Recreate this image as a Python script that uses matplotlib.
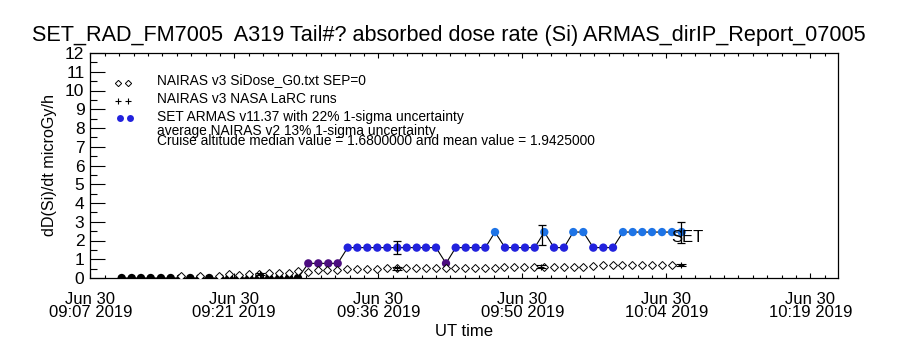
import numpy as np
import matplotlib
matplotlib.use('Agg')
import matplotlib.pyplot as plt
from matplotlib.ticker import FixedLocator, MultipleLocator

plt.rcParams['font.family'] = ['Liberation Sans', 'DejaVu Sans']

# tempo em minutos depois de 09:00 UT (30 jun 2019)
zero_times = [10.34, 11.34, 12.27, 13.24, 14.27, 15.24, 16.24, 17.2, 18.17, 19.1,
              20.17, 21.1, 22.1, 23.1, 24.07, 25.1, 26.1, 27.07, 27.97]
zero_vals = [0.0] * len(zero_times)

set_times = [29.0, 30.0, 31.0, 31.94, 32.94, 33.9, 34.9, 35.9, 36.9, 37.9,
             38.84, 39.84, 40.77, 41.77, 42.77, 43.74, 44.74, 45.74, 46.7, 47.67,
             48.67, 49.67, 50.67, 51.64, 52.6, 53.57, 54.57, 55.5, 56.5, 57.5,
             58.5, 59.47, 60.47, 61.44, 62.4, 63.37, 64.37, 65.37, 66.34]
set_vals = [0.78, 0.78, 0.78, 0.78,
            1.62, 1.62, 1.62, 1.62, 1.62, 1.62, 1.62, 1.62, 1.62, 1.62,
            0.78,
            1.62, 1.62, 1.62, 1.62,
            2.45,
            1.62, 1.62, 1.62, 1.62,
            2.45,
            1.62, 1.62,
            2.45, 2.45,
            1.62, 1.62, 1.62,
            2.45, 2.45, 2.45, 2.45, 2.45, 2.45, 2.45]

# NAIRAS v3 SiDose (losangos)
nairas_times = [16.24, 18.17, 20.07, 21.1, 22.1, 23.1, 24.1, 25.1, 26.1, 27.07,
                28.0, 28.94, 29.94, 30.9, 31.87, 32.84, 33.9, 34.9, 35.9, 36.9,
                37.84, 38.77, 39.77, 40.77, 41.77, 42.77, 43.7, 44.67, 45.67, 46.67,
                47.67, 48.6, 49.6, 50.6, 51.57, 52.6, 53.6, 54.57, 55.57, 56.5,
                57.5, 58.5, 59.44, 60.4, 61.4, 62.4, 63.4, 64.34, 65.34]
nairas_vals = [0.11, 0.13, 0.13, 0.20, 0.16, 0.20, 0.21, 0.25, 0.28, 0.28,
               0.37, 0.30, 0.43, 0.43, 0.43, 0.46, 0.46, 0.46, 0.46, 0.52,
               0.52, 0.52, 0.52, 0.52, 0.52, 0.52, 0.52, 0.52, 0.52, 0.52,
               0.52, 0.60, 0.60, 0.60, 0.60, 0.60, 0.60, 0.60, 0.60, 0.60,
               0.64, 0.69, 0.69, 0.69, 0.69, 0.69, 0.69, 0.69, 0.69]

# NAIRAS v3 NASA LaRC (+ com barra de erro)
larc_times = [24.17, 37.87, 52.27, 66.27]
larc_vals = [0.21, 0.52, 0.60, 0.69]
larc_err = [0.06, 0.08, 0.08, 0.07]

# barras de incerteza do ARMAS (22%)
avg_times = [37.9, 52.34, 66.27]
avg_lo = [1.28, 1.76, 1.87]
avg_hi = [1.99, 2.81, 3.00]

tick_pos = [7.2, 21.6, 36.0, 50.4, 64.8, 79.2]
tick_lab = ['Jun 30\n09:07 2019', 'Jun 30\n09:21 2019', 'Jun 30\n09:36 2019',
            'Jun 30\n09:50 2019', 'Jun 30\n10:04 2019', 'Jun 30\n10:19 2019']

W, H = 900, 350
fig = plt.figure(figsize=(9, 3.5), dpi=100)
ax = fig.add_axes([90 / W, 1 - 278 / H, (838 - 90) / W, (278 - 53) / H])


def cor(v):
    if v <= 0:
        return 'black'
    if v < 1.2:
        return '#4c0d80'
    if v < 2.0:
        return '#2222dd'
    return '#1e74e6'


all_t = zero_times + set_times
all_v = zero_vals + set_vals
ax.plot(all_t, all_v, color='black', lw=0.8, zorder=3)
ax.scatter(all_t, all_v, s=36, c=[cor(v) for v in all_v], zorder=4, linewidths=0)

ax.plot(nairas_times, nairas_vals, ls='none', marker='D', ms=3.6, mfc='white',
        mec='black', mew=0.7, zorder=5)
ax.errorbar(larc_times, larc_vals, yerr=larc_err, fmt='+', color='black', ms=5,
            mew=0.8, elinewidth=0.8, capsize=3.5, zorder=6)

avg_c = [(a + b) / 2 for a, b in zip(avg_lo, avg_hi)]
avg_e = [(b - a) / 2 for a, b in zip(avg_lo, avg_hi)]
ax.errorbar(avg_times, avg_c, yerr=avg_e, fmt='none', ecolor='black',
            elinewidth=0.9, capsize=3, capthick=0.9, zorder=6)

ax.text(65.3, 2.16, 'SET', fontsize=12, va='center', ha='left', zorder=7)

ax.set_xlim(7.17, 81.97)
ax.set_ylim(0, 12)
ax.xaxis.set_major_locator(FixedLocator(tick_pos))
ax.xaxis.set_minor_locator(FixedLocator(list(np.arange(7.2, 82.0, 1.44))))
ax.set_xticklabels(tick_lab, fontsize=12, linespacing=0.85)
ax.yaxis.set_major_locator(MultipleLocator(1))
ax.yaxis.set_minor_locator(MultipleLocator(0.5))
ax.tick_params(axis='x', which='major', direction='in', length=3.5, width=0.8,
               top=True, pad=10)
ax.tick_params(axis='x', which='minor', direction='in', length=2, width=0.8, top=True)
ax.tick_params(axis='y', which='major', direction='in', length=10.5, width=0.8,
               labelsize=12.5, pad=4)
ax.tick_params(axis='y', which='minor', direction='in', length=5, width=0.8)
for s in ax.spines.values():
    s.set_linewidth(0.9)

ax.set_ylabel('dD(Si)/dt microGy/h', fontsize=11.6, labelpad=6)
ax.set_xlabel('UT time', fontsize=12, labelpad=3)

fig.text(449 / W, 1 - 36 / H,
         'SET_RAD_FM7005  A319 Tail#? absorbed dose rate (Si) ARMAS_dirIP_Report_07005',
         fontsize=15.6, ha='center', va='center')

# legenda escrita a mao (como no IDL)
leg_fs = 9.9
fig.text(157 / W, 1 - 80 / H, 'NAIRAS v3 SiDose_G0.txt SEP=0', fontsize=leg_fs, va='center')
fig.text(157 / W, 1 - 99 / H, 'NAIRAS v3 NASA LaRC runs', fontsize=leg_fs, va='center')
fig.text(157 / W, 1 - 117 / H, 'SET ARMAS v11.37 with 22% 1-sigma uncertainty',
         fontsize=leg_fs, va='center')
fig.text(157 / W, 1 - 131 / H, 'average NAIRAS v2 13% 1-sigma uncertainty',
         fontsize=leg_fs, va='center')
fig.text(157 / W, 1 - 141 / H,
         'Cruise altitude median value = 1.6800000 and mean value = 1.9425000',
         fontsize=leg_fs, va='center')
fig.lines.append(plt.Line2D([118 / W, 128 / W], [1 - 83 / H] * 2, transform=fig.transFigure,
                            ls='none', marker='D', ms=3.2, mfc='white', mec='black', mew=0.7))
fig.lines.append(plt.Line2D([118 / W, 128 / W], [1 - 101 / H] * 2, transform=fig.transFigure,
                            ls='none', marker='+', ms=5, color='black', mew=0.8))
fig.lines.append(plt.Line2D([120 / W, 130 / W], [1 - 118 / H] * 2, transform=fig.transFigure,
                            ls='none', marker='o', ms=5, color='#2222dd', mew=0))

fig.savefig('out.png', dpi=100, facecolor='white')
